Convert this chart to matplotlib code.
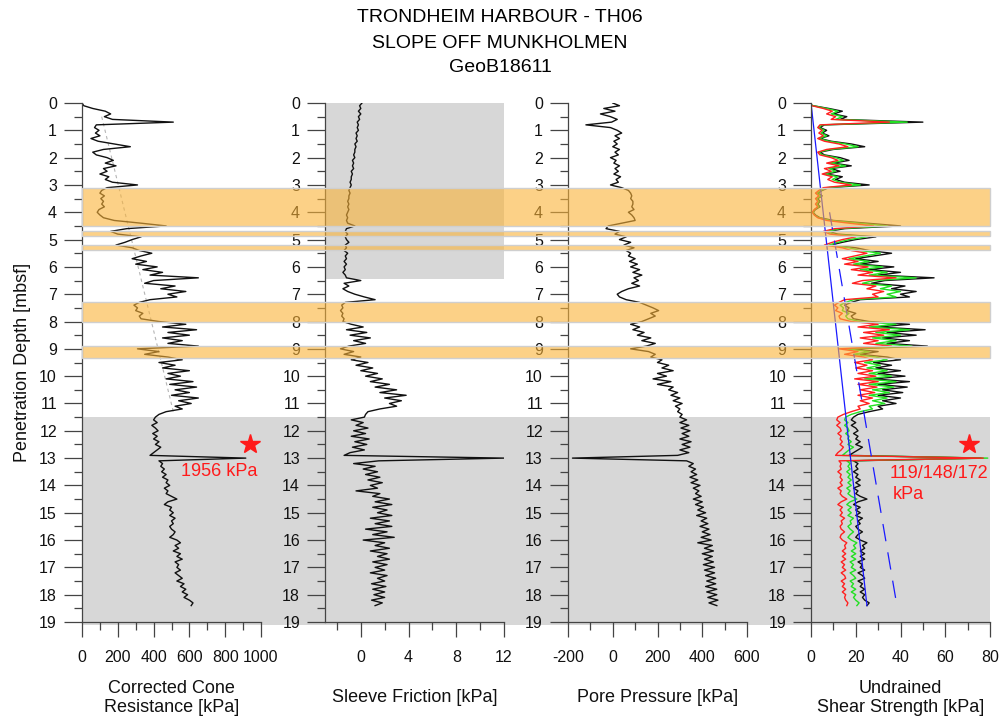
import numpy as np
import matplotlib
matplotlib.use('Agg')
import matplotlib.pyplot as plt
from matplotlib.patches import Rectangle
from matplotlib.transforms import blended_transform_factory
from matplotlib.ticker import MultipleLocator

plt.rcParams['font.family'] = ['Liberation Sans', 'DejaVu Sans']
plt.rcParams['axes.unicode_minus'] = False

# penetration depth samples (mbsf), 0.0 .. 18.4
depth = np.round(np.arange(0, 18.45, 0.1), 1)

# corrected cone resistance qt [kPa]
qc = [0, 10, 60, 130, 160, 125, 170, 510, 80, 70,
      95, 75, 100, 50, 90, 180, 270, 120, 60, 80,
      140, 175, 130, 190, 120, 140, 100, 150, 130, 170,
      310, 140, 110, 100, 125, 105, 120, 110, 125, 95,
      85, 100, 120, 180, 330, 470, 250, 160, 200, 330,
      280, 240, 190, 280, 320, 390, 330, 280, 360, 300,
      420, 340, 450, 380, 650, 400, 350, 520, 440, 580,
      480, 530, 380, 320, 290, 310, 300, 340, 320, 330,
      430, 580, 450, 640, 480, 600, 450, 560, 480, 650,
      310, 430, 350, 480, 560, 430, 520, 450, 600, 480,
      550, 470, 620, 490, 640, 520, 600, 500, 650, 540,
      610, 520, 560, 470, 430, 410, 400, 420, 390, 410,
      425, 395, 420, 400, 430, 410, 440, 420, 400, 380,
      915, 430, 450, 440, 460, 445, 470, 450, 480, 470,
      490, 460, 480, 470, 500, 530, 480, 460, 500, 490,
      510, 490, 520, 500, 510, 490, 500, 520, 510, 490,
      530, 550, 520, 540, 510, 550, 530, 560, 520, 540,
      530, 550, 520, 540, 560, 530, 570, 550, 580, 560,
      590, 570, 600, 620, 610]

# sleeve friction fs [kPa]
fs = [0.1, -0.1, 0.0, -0.2, 0.0, -0.2, -0.1, -0.3, -0.2, -0.3,
      -0.2, -0.4, -0.3, -0.4, -0.3, -0.5, -0.4, -0.5, -0.5, -0.6,
      -0.5, -0.7, -0.6, -0.7, -0.6, -0.8, -0.7, -0.8, -0.8, -0.9,
      -0.8, -0.9, -1.0, -0.9, -1.0, -1.0, -1.1, -1.0, -1.1, -1.0,
      -1.1, -1.2, -1.1, -1.2, -1.1, -0.5, -1.2, -1.3, -1.1, -1.3,
      -1.2, -1.0, -1.3, -1.2, -1.4, -1.1, -1.3, -1.2, -1.4, -1.2,
      -1.4, -1.3, -1.5, -1.3, -1.2, 0.0, -1.4, -1.0, -1.5, -1.1,
      -0.5, 0.3, 1.2, -1.3, -1.6, -1.5, -1.7, -1.5, -1.6, -1.4,
      -1.5, -0.8, 0.2, -1.2, 0.5, -0.9, 0.8, -0.6, 0.4, -1.0,
      -1.7, -0.6, -1.4, 0.0, -0.8, 0.6, -0.4, 1.0, 0.0, 1.4,
      0.4, 1.8, 0.8, 2.4, 1.2, 3.0, 1.6, 3.8, 2.0, 3.4,
      2.4, 3.0, 1.6, 0.6, 0.4, 0.3, -0.8, 0.2, -0.4, 0.6,
      -0.6, 0.4, -0.8, 0.7, -0.5, 0.5, -0.7, 0.3, -0.9, -1.4,
      12.0, 1.5, -0.6, 1.2, 0.2, 1.4, 0.4, 1.6, 0.6, 1.8,
      0.8, 1.4, -0.4, 1.6, 1.0, 2.4, 1.2, 2.6, 1.0, 2.2,
      1.4, 2.6, 0.8, 2.4, 1.2, 2.6, 0.4, 2.2, 1.0, 2.8,
      0.2, 2.0, 1.2, 2.4, 0.8, 2.2, 1.4, 2.4, 1.0, 2.2,
      1.2, 2.0, 0.8, 2.2, 1.4, 2.0, 0.9, 2.1, 1.0, 2.0,
      1.1, 2.0, 0.9, 1.8, 1.2]

# pore pressure u2 [kPa]
u2 = [0, 30, -40, 10, -55, -10, 20, -5, -120, -10,
      20, 40, 10, 30, 5, 20, 0, 30, 10, 25,
      -10, 15, 5, 30, 10, 25, 5, 35, 15, 25,
      -10, 40, 70, 80, 85, 80, 90, 90, 85, 95,
      70, 85, 95, 100, 40, -20, -30, 30, 10, 60,
      30, 80, 50, 95, 60, 80, 70, 100, 75, 110,
      80, 120, 90, 130, 95, 115, 85, 120, 70, 40,
      20, 30, 60, 120, 150, 180, 205, 170, 190, 160,
      130, 80, 120, 90, 140, 110, 170, 130, 190, 150,
      80, 160, 190, 170, 220, 200, 250, 220, 270, 200,
      240, 180, 260, 200, 270, 250, 290, 260, 300, 270,
      310, 280, 300, 290, 310, 300, 330, 300, 340, 305,
      345, 310, 340, 300, 350, 310, 345, 300, 340, 290,
      -180, 330, 360, 340, 370, 350, 375, 345, 380, 350,
      390, 360, 385, 370, 395, 360, 400, 370, 405, 380,
      415, 375, 420, 395, 425, 390, 430, 400, 435, 395,
      440, 380, 445, 410, 450, 400, 445, 410, 450, 405,
      455, 410, 455, 415, 460, 420, 460, 415, 465, 420,
      465, 425, 470, 430, 465]

# undrained shear strength [kPa], three cone factors
su_172 = [-2, 1, 8, 14, 10, 16, 13, 50, 6, 4,
          7, 5, 8, 4, 9, 18, 24, 10, 4, 6,
          13, 17, 10, 18, 9, 13, 7, 14, 11, 15,
          26, 8, 5, 3, 5, 3, 4, 3, 4, 2,
          1, 2, 4, 10, 25, 40, 15, 8, 12, 29,
          20, 14, 9, 20, 26, 36, 28, 20, 30, 22,
          37, 26, 40, 30, 55, 33, 27, 42, 36, 47,
          40, 44, 22, 18, 15, 17, 16, 20, 18, 19,
          26, 44, 30, 51, 34, 47, 32, 44, 34, 52,
          18, 30, 22, 34, 40, 28, 36, 29, 40, 30,
          42, 28, 44, 30, 43, 32, 41, 30, 40, 32,
          38, 30, 32, 26, 21, 19, 18, 20, 18, 20,
          21, 19, 21, 20, 22, 20, 23, 21, 19, 17,
          76, 19, 21, 20, 21, 19, 21, 20, 22, 20,
          22, 19, 21, 20, 22, 25, 21, 19, 22, 20,
          22, 20, 23, 21, 22, 20, 21, 23, 21, 20,
          22, 25, 23, 24, 22, 24, 22, 24, 21, 23,
          22, 24, 21, 23, 24, 21, 23, 22, 24, 22,
          24, 23, 24, 26, 25]

su_148 = [-2, 1, 7, 12, 9, 14, 11, 43, 5, 3.5,
          6, 4.5, 7, 3.5, 8, 15.5, 21, 8.5, 3.5, 5,
          11, 14.5, 8.5, 15.5, 8, 11, 6, 12, 9.5, 13,
          22, 7, 4.5, 2.5, 4.5, 2.5, 3.5, 2.5, 3.5, 1.5,
          1, 1.5, 3.5, 8.5, 21.5, 34, 13, 7, 10, 25,
          17, 12, 8, 17, 22, 31, 24, 17, 26, 19,
          32, 22, 34, 26, 47, 28, 23, 36, 31, 40,
          34, 38, 19, 15.5, 13, 14.5, 14, 17, 15.5, 16.5,
          22, 38, 26, 44, 29, 40, 27.5, 38, 29, 45,
          15.5, 26, 19, 29, 34, 24, 31, 25, 34, 26,
          36, 24, 38, 26, 37, 27.5, 35, 26, 34, 27.5,
          33, 26, 27.5, 22, 18, 15.5, 15, 16.5, 15, 16.5,
          17, 15.5, 17, 16.5, 18, 16.5, 19, 17, 15.5, 14,
          79, 16, 17.5, 16.5, 17.5, 16, 17.5, 16.5, 18, 16.5,
          18, 16, 17.5, 16.5, 18, 20.5, 17.5, 16, 18, 16.5,
          18, 16.5, 19, 17.5, 18, 16.5, 17.5, 19, 17.5, 16.5,
          18, 20.5, 19, 20, 18, 20, 18, 20, 17.5, 19,
          18, 20, 17.5, 19, 20, 17.5, 19, 18, 20, 18,
          20, 19, 20, 21.5, 20.5]

su_119 = [-2, 0.5, 5.5, 9.5, 7, 11, 9, 35, 4, 3,
          5, 3.5, 5.5, 3, 6, 12.5, 16.5, 7, 3, 4,
          9, 12, 7, 12.5, 6, 9, 5, 9.5, 7.5, 10.5,
          18, 5.5, 3.5, 2, 3.5, 2, 3, 2, 3, 1.5,
          0.5, 1.5, 3, 7, 17, 28, 10.5, 5.5, 8.5, 20,
          14, 9.5, 6, 14, 18, 25, 19.5, 14, 21, 15,
          25.5, 18, 27.5, 21, 38, 23, 18.5, 29, 25, 32.5,
          27.5, 30, 15, 12.5, 10.5, 12, 11, 14, 12.5, 13,
          18, 30, 21, 35, 23.5, 32.5, 22, 30, 23.5, 36,
          12.5, 21, 15, 23.5, 27.5, 19.5, 25, 20, 27.5, 21,
          29, 19.5, 30, 21, 29.5, 22, 28.5, 21, 27.5, 22,
          26, 21, 22, 18, 14.5, 12, 11.5, 13, 11.5, 13,
          13.5, 12, 13.5, 13, 14, 13, 14.5, 13.5, 12, 11,
          77, 12.5, 13.5, 13, 13.5, 12, 13.5, 13, 14, 13,
          14, 12, 13.5, 13, 14, 16, 13.5, 12, 14, 13,
          14, 13, 15, 13.5, 14, 13, 13.5, 15, 13.5, 13,
          14, 16, 15, 15.5, 14, 15.5, 14, 15.5, 13.5, 15,
          14, 15.5, 13.5, 15, 15.5, 13.5, 15, 14, 15.5, 14,
          15.5, 15, 15.5, 16.5, 16]

# reference lines
qc_trend_depth = [0.5, 11.3]
qc_trend = [110, 510]
su_line_depth = [0.0, 18.4]
su_line = [0, 25]
su_dash_depth = [4.0, 18.4]
su_dash = [8.3, 38.4]

# layer zones (depth intervals)
orange_bands = [(3.1, 4.5), (4.7, 4.88), (5.2, 5.38), (7.3, 8.0), (8.9, 9.35)]
gray_zone = (11.5, 19.1)
fs_gray_bottom = 6.45

xlabels = ["Corrected Cone\nResistance [kPa]", "Sleeve Friction [kPa]",
           "Pore Pressure [kPa]", "Undrained\nShear Strength [kPa]"]

fig = plt.figure(figsize=(10, 7.21), dpi=100)
lefts = [0.082, 0.325, 0.568, 0.811]
bottom, height, width = 1 - 622/721, (622 - 103)/721, 0.179
axes = [fig.add_axes([l, bottom, width, height]) for l in lefts]

limits = [(0, 1000, 200, 100), (-3, 12, 4, 2), (-200, 600, 200, 100), (0, 80, 20, 10)]
for ax, (x0, x1, maj, mnr) in zip(axes, limits):
    ax.set_facecolor('none')
    ax.set_xlim(x0, x1)
    ax.set_ylim(19, 0)
    ax.xaxis.set_major_locator(MultipleLocator(maj))
    ax.xaxis.set_minor_locator(MultipleLocator(mnr))
    ax.yaxis.set_major_locator(MultipleLocator(1))
    ax.yaxis.set_minor_locator(MultipleLocator(0.5))
    ax.spines['top'].set_visible(False)
    ax.spines['right'].set_visible(False)
    for s in ['left', 'bottom']:
        ax.spines[s].set_color('#444444')
        ax.spines[s].set_linewidth(0.9)
    ax.tick_params(axis='y', which='major', length=13, pad=5, labelsize=11.5)
    ax.tick_params(axis='y', which='minor', length=6)
    ax.tick_params(axis='x', which='major', length=11, pad=9, labelsize=11.5)
    ax.tick_params(axis='x', which='minor', length=5.5)
    ax.tick_params(which='both', width=0.9, color='#444444', labelcolor='#111111')

ax1, ax2, ax3, ax4 = axes

# figure wide shading behind the axes
trans = blended_transform_factory(fig.transFigure, ax1.transData)
fig.add_artist(Rectangle((0.082, gray_zone[0]), 0.908, gray_zone[1] - gray_zone[0],
                         transform=trans, facecolor='#d7d7d7', edgecolor='none', zorder=-1))
ax2.add_patch(Rectangle((-3, 0), 15, fs_gray_bottom, facecolor='#d7d7d7', edgecolor='none', zorder=0))

ax1.plot(qc_trend, qc_trend_depth, color='#b5b5b5', lw=0.8, ls=(0, (3, 3)))
ax1.plot(qc, depth, color='#111111', lw=1.0)
ax2.plot(fs, depth, color='#111111', lw=1.0)
ax3.plot(u2, depth, color='#111111', lw=1.0)
ax4.plot(su_172, depth, color='#111111', lw=1.0)
ax4.plot(su_148, depth, color='#22e022', lw=1.0)
ax4.plot(su_119, depth, color='#ff2020', lw=1.0)
ax4.plot(su_line, su_line_depth, color='#1a1aff', lw=0.9)
ax4.plot(su_dash, su_dash_depth, color='#1a1aff', lw=0.9, ls=(0, (14, 9)))

# peak annotations
ax1.plot(939, 12.47, marker='*', ms=15, color='#ff1a1a', clip_on=False)
ax1.text(553, 13.5, "1956 kPa", color='#ff1a1a', fontsize=13, va='center', ha='left')
ax4.plot(70.6, 12.47, marker='*', ms=15, color='#ff1a1a', clip_on=False)
ax4.text(35, 13.55, "119/148/172", color='#ff1a1a', fontsize=13, va='center', ha='left')
ax4.text(36.7, 14.35, "kPa", color='#ff1a1a', fontsize=13, va='center', ha='left')

# orange layers drawn on top of everything
for top, bot in orange_bands:
    fig.add_artist(Rectangle((0.082, top), 0.908, bot - top, transform=trans,
                             facecolor=(0.98, 0.70, 0.22, 0.6), edgecolor='#cfcfcf',
                             lw=1.0, zorder=5))

ax1.set_ylabel("Penetration Depth [mbsf]", fontsize=13, color='#111111', labelpad=6)

for ax, lab in zip(axes, xlabels):
    pos = ax.get_position()
    fig.text(pos.x0 + pos.width/2, 1 - 698/721, lab, ha='center', va='center',
             fontsize=13, color='#111111', linespacing=1.2, multialignment='center')

fig.text(0.5, 1 - 18/721, "TRONDHEIM HARBOUR - TH06", ha='center', va='center', fontsize=14)
fig.text(0.5, 1 - 43/721, "SLOPE OFF MUNKHOLMEN", ha='center', va='center', fontsize=14)
fig.text(0.5, 1 - 68/721, "GeoB18611", ha='center', va='center', fontsize=14)

fig.savefig("out.png", dpi=100)
